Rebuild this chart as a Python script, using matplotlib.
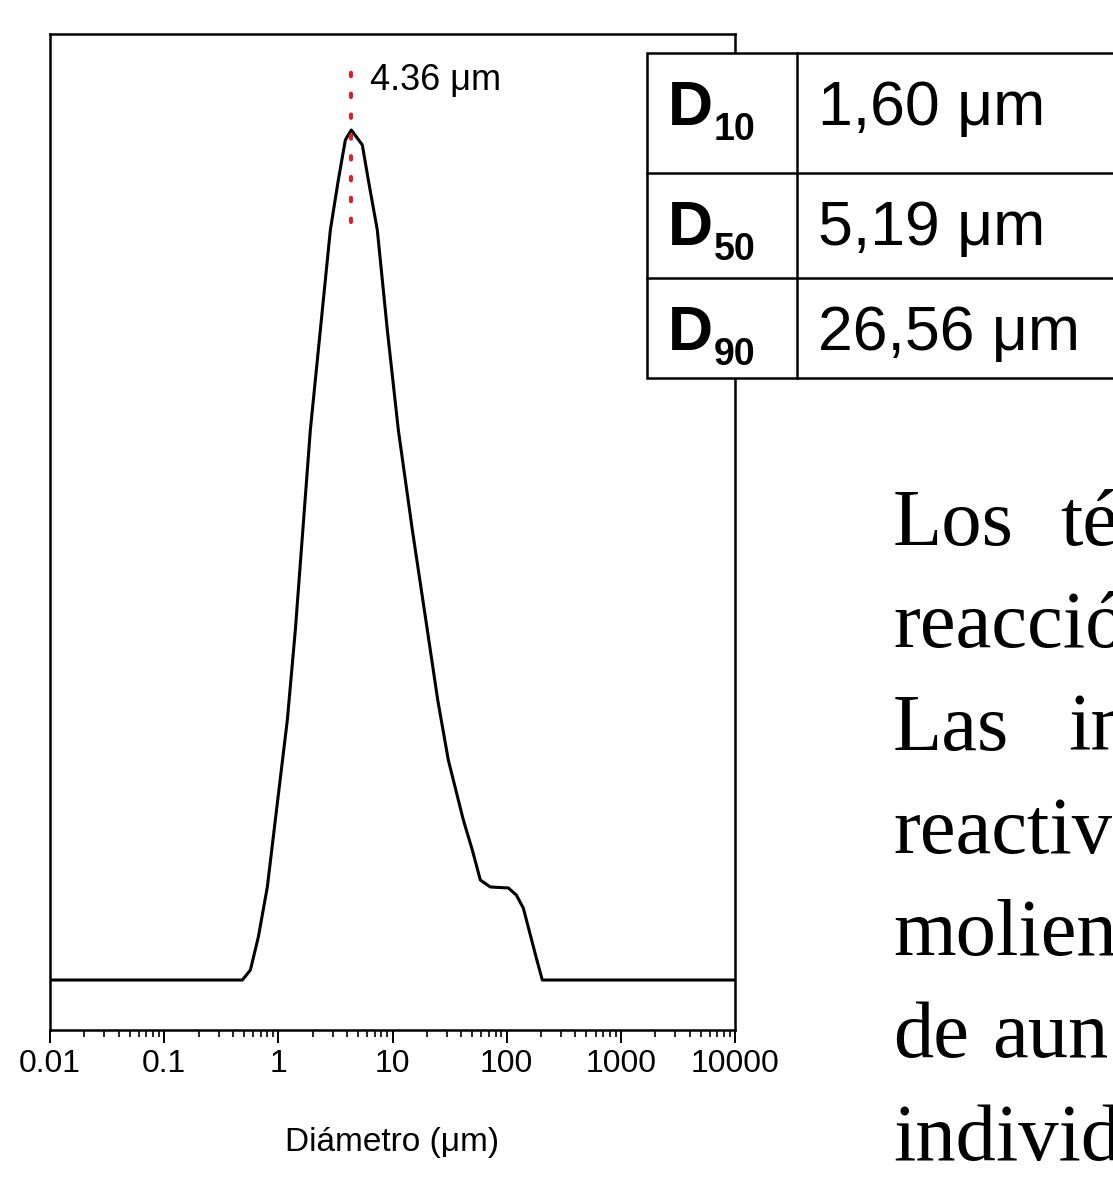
import numpy as np
import matplotlib
matplotlib.use("Agg")
import matplotlib.pyplot as plt
from matplotlib.patches import Rectangle

# curva de distribución de tamaño
diametro = [0.01, 0.484, 0.569, 0.668, 0.801, 0.941, 1.199, 1.409, 1.907, 2.333,
            2.855, 3.354, 3.863, 4.36, 5.44, 6.14, 7.36, 9.01, 11.25, 14.92,
            20.19, 24.9, 30.83, 41.73, 50.03, 58.80, 71.93, 103.4, 121.5, 139.9,
            161.2, 181.9, 205.3, 10000]
volumen = [0, 0, 0.088, 0.379, 0.821, 1.412, 2.294, 3.088, 4.853, 5.735,
           6.618, 7.059, 7.412, 7.5, 7.368, 7.059, 6.618, 5.735, 4.853, 3.971,
           3.088, 2.47, 1.941, 1.412, 1.147, 0.882, 0.821, 0.812, 0.750, 0.635,
           0.397, 0.194, 0, 0]

pico = 4.36
pico_txt = "4.36 \u03bcm"

xticks = [0.01, 0.1, 1, 10, 100, 1000, 10000]
xticklabels = ["0.01", "0.1", "1", "10", "100", "1000", "10000"]

# tabla D10 / D50 / D90
tabla_sub = ["10", "50", "90"]
tabla_val = ["1,60 \u03bcm", "5,19 \u03bcm", "26,56 \u03bcm"]

# texto del documento (cortado en el borde)
parrafo = [["Los", "té"], ["reacció"], ["Las", "in"], ["reactivo"],
           ["molien"], ["de", "aun"], ["individ"]]

W, H = 1113, 1178
fig = plt.figure(figsize=(W / 100, H / 100), dpi=100)
fig.patch.set_facecolor("white")

ax = fig.add_axes([50 / W, 1 - 1030 / H, 685 / W, 996 / H])
ax.plot(diametro, volumen, color="black", lw=2.2, solid_joinstyle="round")
ax.set_xscale("log")
ax.set_xlim(0.01, 10000)
ax.set_ylim(-0.441, 8.347)
ax.set_yticks([])
ax.set_xticks(xticks)
ax.set_xticklabels(xticklabels, fontsize=23, family="Liberation Sans")
ax.tick_params(axis="x", which="major", direction="out", length=9, width=1.4, pad=5)
ax.tick_params(axis="x", which="minor", direction="out", length=5, width=1.2)
ax.xaxis.set_minor_locator(matplotlib.ticker.LogLocator(base=10, subs=np.arange(2, 10)))
ax.xaxis.set_minor_formatter(matplotlib.ticker.NullFormatter())
for s in ax.spines.values():
    s.set_linewidth(1.8)
ax.set_xlabel("Diámetro (\u03bcm)", fontsize=24, family="Liberation Sans", labelpad=34)

# línea punteada del pico
ax.plot([pico, pico], [6.69, 8.01], color="#d8202e", lw=3,
        linestyle=(0, (0.8, 4.2)), dash_capstyle="round")
ax.text(6.4, 7.94, pico_txt, fontsize=26, family="Liberation Sans", va="center", ha="left")

# capa superior en píxeles para tabla y texto
ov = fig.add_axes([0, 0, 1, 1], zorder=5)
ov.set_xlim(0, W)
ov.set_ylim(H, 0)
ov.axis("off")

ov.add_patch(Rectangle((647, 53), 600, 325, facecolor="white", edgecolor="black", lw=1.8))
for y in [173, 278]:
    ov.plot([647, 1200], [y, y], color="black", lw=1.8)
ov.plot([797, 797], [53, 378], color="black", lw=1.8)

bases = [125, 245, 350]
for base, sub, val in zip(bases, tabla_sub, tabla_val):
    ov.text(668, base, "D", fontsize=45, fontweight="bold", family="Liberation Sans",
            va="baseline", ha="left")
    ov.text(714, base + 15, sub, fontsize=27, fontweight="bold", family="Liberation Sans",
            va="baseline", ha="left")
    ov.text(818, base, val, fontsize=45, family="Liberation Sans", va="baseline", ha="left")

x_palabras = {("Los", 1): 1060, ("Las", 1): 1068, ("de", 1): 992}
for i, linea in enumerate(parrafo):
    base = 545 + 102.5 * i
    for j, palabra in enumerate(linea):
        x = 893 if j == 0 else x_palabras[(linea[0], j)]
        ov.text(x, base, palabra, fontsize=58, family="Liberation Serif",
                va="baseline", ha="left")

fig.savefig("out.png", dpi=100)
